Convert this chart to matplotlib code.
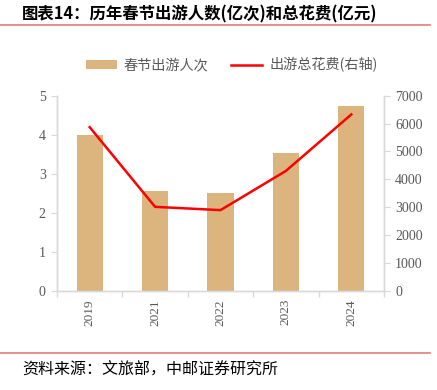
import matplotlib
matplotlib.use("Agg")
import matplotlib.pyplot as plt
from matplotlib.patches import Patch
from matplotlib.lines import Line2D
import numpy as np

years = ["2019", "2021", "2022", "2023", "2024"]
trips = [3.99, 2.56, 2.51, 3.52, 4.74]          # 亿人次
spend = [5870, 3011, 2892, 4300, 6327]          # 亿元

title = "图表14：历年春节出游人数(亿次)和总花费(亿元)"
source = "资料来源：文旅部，中邮证券研究所"
bar_label = "春节出游人次"
line_label = "出游总花费(右轴)"

cjk = ["Noto Sans CJK SC", "DejaVu Sans"]
serif = ["Liberation Serif", "DejaVu Serif"]
tick_color = "#595959"
spine_color = "#d9d9d9"
bar_color = "#DBB47E"
line_color = "#FF0000"

fig = plt.figure(figsize=(4.37, 3.90), dpi=100)
ax = fig.add_axes([0.1304, 0.2546, 0.8787 - 0.1304, 0.7546 - 0.2546])
ax2 = ax.twinx()

x = np.arange(len(years))
ax.bar(x, trips, width=0.4, color=bar_color, zorder=2)
ax2.plot(x, spend, color=line_color, lw=1.8, zorder=3)

ax.set_xlim(-0.5, len(years) - 0.5)
ax.set_ylim(0, 5)
ax2.set_ylim(0, 7000)
ax.set_yticks(range(0, 6))
ax2.set_yticks(range(0, 7001, 1000))

ax.set_xticks(x)
ax.set_xticklabels(years, rotation=90, fontfamily=serif, fontsize=9.5, color=tick_color)
ax.set_xticks(np.arange(-0.5, len(years)), minor=True)
ax.tick_params(axis="x", which="major", length=0, pad=6)
ax.tick_params(axis="x", which="minor", length=4, color=spine_color, width=1)

ax.tick_params(axis="y", length=4, color=spine_color, labelcolor=tick_color, labelsize=10, pad=4)
ax2.tick_params(axis="y", length=4, color=spine_color, labelcolor=tick_color, labelsize=10, pad=4)
for lab in ax.get_yticklabels() + ax2.get_yticklabels():
    lab.set_fontfamily(serif)

for a in (ax, ax2):
    a.spines["top"].set_visible(False)
    for s in ("left", "right", "bottom"):
        a.spines[s].set_color(spine_color)
        a.spines[s].set_linewidth(1)

# title and rules
fig.text(0.05, 0.964, title, fontfamily=cjk, fontsize=11.8, fontweight="bold",
         color="#000000", va="center", ha="left")
fig.add_artist(Line2D([0.0, 0.985], [0.936, 0.936], transform=fig.transFigure,
                      color="#E07B7B", lw=1.2))
fig.add_artist(Line2D([0.0, 0.985], [0.096, 0.096], transform=fig.transFigure,
                      color="#E07B7B", lw=1.2))
fig.text(0.05, 0.052, source, fontfamily=cjk, fontsize=11.5, color="#000000",
         va="center", ha="left")

handles = [Patch(facecolor=bar_color, edgecolor="none"),
           Line2D([0], [0], color=line_color, lw=1.8)]
leg = fig.legend(handles, [bar_label, line_label], loc="center",
                 bbox_to_anchor=(0.53, 0.833), ncol=2, frameon=False,
                 prop={"family": cjk, "size": 10.2}, handlelength=2.2,
                 handleheight=0.6, columnspacing=1.6, handletextpad=0.5)
for t in leg.get_texts():
    t.set_color(tick_color)

fig.savefig("out.png", dpi=100)
